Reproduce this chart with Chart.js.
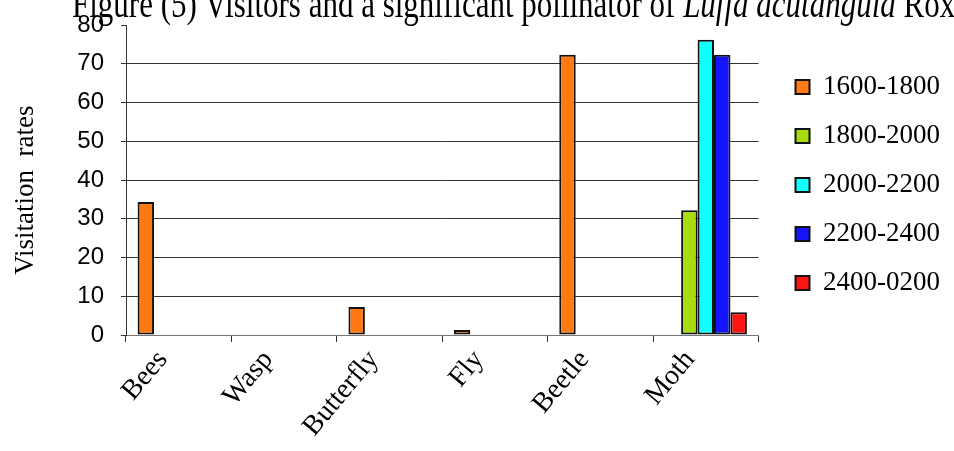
<!DOCTYPE html>
<html>
<head>
<meta charset="utf-8">
<script src="https://cdn.jsdelivr.net/npm/chart.js@4.4.1/dist/chart.umd.min.js"></script>
<style>
  html, body { margin: 0; padding: 0; background: #fff; }
  #wrap { width: 954px; height: 451px; }
</style>
</head>
<body>
<div id="wrap"><canvas id="myChart" width="954" height="451"></canvas></div>
<script>
// visitor groups and visitation rates per time slot
const categories = ['Bees', 'Wasp', 'Butterfly', 'Fly', 'Beetle', 'Moth'];
const seriesNames = ['1600-1800', '1800-2000', '2000-2200', '2200-2400', '2400-0200'];
const slot1600 = [34.3, 0, 7.2, 1.3, 72.3, 0];
const slot1800 = [0, 0, 0, 0, 0, 32.2];
const slot2000 = [0, 0, 0, 0, 0, 76.2];
const slot2200 = [0, 0, 0, 0, 0, 72.3];
const slot2400 = [0, 0, 0, 0, 0, 5.9];
const yTicks = [0, 10, 20, 30, 40, 50, 60, 70, 80];

const colors = ['#ff7a12', '#a9dc10', '#12ffff', '#1414ff', '#ff1414'];
const allSeries = [slot1600, slot1800, slot2000, slot2200, slot2400];

const serif = '"Liberation Serif", "Times New Roman", serif';
const sans = '"Liberation Sans", Arial, sans-serif';

// title is partly cut off at the top of the picture
const titlePlugin = {
    id: 'cutTitle',
    afterDraw(chart) {
        const ctx = chart.ctx;
        ctx.save();
        ctx.fillStyle = '#000';
        ctx.textBaseline = 'alphabetic';
        ctx.translate(72, 17);
        ctx.scale(1, 1.3);
        let x = 0;
        const parts = [
            ['Figure (5) Visitors and a significant pollinator of ', 'normal'],
            ['Luffa acutangula', 'italic'],
            [' Roxb.', 'normal']
        ];
        parts.forEach(p => {
            ctx.font = p[1] + ' 31px ' + serif;
            ctx.fillText(p[0], x, 0);
            x += ctx.measureText(p[0]).width;
        });
        ctx.restore();
    }
};

// push legend a bit right of the plot area
const legendShift = {
    id: 'legendShift',
    afterLayout(chart) {
        chart.legend.left += 15;
        chart.legend.right += 15;
    }
};

const ctx = document.getElementById('myChart').getContext('2d');
new Chart(ctx, {
    type: 'bar',
    data: {
        labels: categories,
        datasets: allSeries.map((d, i) => ({
            label: seriesNames[i],
            data: d,
            backgroundColor: colors[i],
            borderColor: '#111',
            borderWidth: 2,
            borderSkipped: false,
            barPercentage: 1,
            categoryPercentage: 0.78
        }))
    },
    options: {
        responsive: false,
        animation: false,
        layout: { padding: { top: 25, right: 19, left: 0, bottom: 0 } },
        plugins: {
            tooltip: { enabled: false },
            legend: {
                position: 'right',
                align: 'start',
                title: { display: true, text: ' ', padding: { top: 12, bottom: 0 } },
                labels: {
                    color: '#000',
                    font: { family: serif, size: 27 },
                    boxWidth: 14,
                    boxHeight: 14,
                    padding: 22
                }
            }
        },
        scales: {
            x: {
                grid: { drawOnChartArea: false, offset: true, tickLength: 7, color: '#333' },
                border: { color: '#777', width: 1 },
                ticks: {
                    color: '#000',
                    font: { family: serif, size: 28 },
                    minRotation: 50,
                    maxRotation: 50,
                    labelOffset: -16,
                    padding: 2
                },
                afterFit(scale) { scale.height = 116; }
            },
            y: {
                min: 0,
                max: 80,
                afterBuildTicks(scale) { scale.ticks = yTicks.map(v => ({ value: v })); },
                grid: {
                    color: c => (c.tick && c.tick.value === 80) ? 'rgba(0,0,0,0)' : '#333',
                    tickColor: '#333',
                    tickLength: 5
                },
                border: { color: '#333', width: 1 },
                ticks: {
                    color: '#000',
                    font: { family: sans, size: 24 },
                    padding: 17
                },
                title: {
                    display: true,
                    text: 'Visitation  rates   ',
                    color: '#000',
                    font: { family: serif, size: 27 },
                    padding: { top: 10, bottom: 0 }
                },
                afterFit(scale) {
                    scale.width = 126;
                    scale.paddingTop = 0;
                    scale.paddingBottom = 0;
                }
            }
        }
    },
    plugins: [titlePlugin, legendShift]
});
</script>
</body>
</html>
